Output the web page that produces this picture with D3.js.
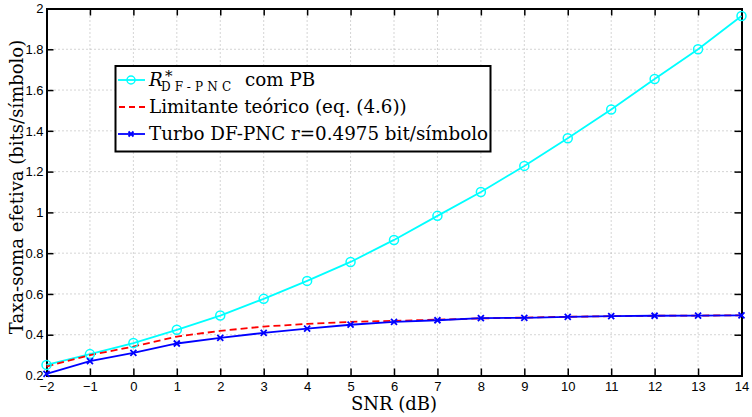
<!DOCTYPE html>
<html><head><meta charset="utf-8">
<script src="https://cdn.jsdelivr.net/npm/d3@7"></script>
<style>body{margin:0;background:#fff}svg{display:block}</style>
</head><body>
<svg id="c" width="752" height="417"></svg>
<script>
const snr = [-2,-1,0,1,2,3,4,5,6,7,8,9,10,11,12,13,14];
const rStar = [0.252,0.305,0.359,0.424,0.494,0.576,0.664,0.757,0.865,0.983,1.10,1.228,1.364,1.505,1.654,1.80,1.963];
const limit = [0.244,0.300,0.342,0.391,0.419,0.440,0.453,0.463,0.468,0.474,0.480,0.484,0.488,0.491,0.493,0.494,0.495];
const turbo = [0.208,0.270,0.311,0.357,0.385,0.409,0.430,0.449,0.463,0.471,0.481,0.483,0.488,0.491,0.493,0.494,0.495];
const xTicks = [-2,-1,0,1,2,3,4,5,6,7,8,9,10,11,12,13,14];
const yTicks = [0.2,0.4,0.6,0.8,1,1.2,1.4,1.6,1.8,2];
const legendLabels = ["com PB","Limitante teórico (eq. (4.6))","Turbo DF-PNC r=0.4975 bit/símbolo"];

const L=46.5,R=741.5,T=8.5,B=375.5;
const svg=d3.select("#c");
const x=d3.scaleLinear().domain([-2,14]).range([L,R]);
const y=d3.scaleLinear().domain([0.2,2]).range([B,T]);

// grid
const g=svg.append("g");
g.selectAll(".gx").data(xTicks.slice(1,-1)).enter().append("line")
 .attr("x1",d=>x(d)).attr("x2",d=>x(d)).attr("y1",T).attr("y2",B)
 .attr("stroke","#aaa").attr("stroke-width",1).attr("stroke-dasharray","1,3");
g.selectAll(".gy").data(yTicks.slice(1,-1)).enter().append("line")
 .attr("y1",d=>y(d)).attr("y2",d=>y(d)).attr("x1",L).attr("x2",R)
 .attr("stroke","#aaa").attr("stroke-width",1).attr("stroke-dasharray","1,3");

// axes
const fmt=d=>d===1?"1":d===2?"2":String(+d.toFixed(1));
const axB=svg.append("g").attr("transform",`translate(0,${B})`).call(d3.axisBottom(x).tickValues(xTicks).tickSize(-7).tickPadding(6).tickFormat(d=>d<0?"\u2212"+(-d):d));
const axT=svg.append("g").attr("transform",`translate(0,${T})`).call(d3.axisTop(x).tickValues(xTicks).tickSize(-7).tickFormat(""));
const axL=svg.append("g").attr("transform",`translate(${L},0)`).call(d3.axisLeft(y).tickValues(yTicks).tickSize(-7).tickPadding(3).tickFormat(fmt));
const axR=svg.append("g").attr("transform",`translate(${R},0)`).call(d3.axisRight(y).tickValues(yTicks).tickSize(-7).tickFormat(""));
[axB,axT,axL,axR].forEach(a=>{
  a.select(".domain").attr("stroke","#000").attr("stroke-width",2);
  a.selectAll(".tick line").attr("stroke","#000").attr("stroke-width",1.5);
  a.selectAll("text").attr("font-family","Liberation Sans, Arial, sans-serif").attr("font-size",13).attr("fill","#000");
});

// lines
const line=d3.line().x((d,i)=>x(snr[i])).y(d=>y(d));
svg.append("path").datum(rStar).attr("d",line).attr("fill","none").attr("stroke","#00ffff").attr("stroke-width",1.8);
svg.append("path").datum(limit).attr("d",line).attr("fill","none").attr("stroke","#ff0000").attr("stroke-width",1.8).attr("stroke-dasharray","7,4");
svg.append("path").datum(turbo).attr("d",line).attr("fill","none").attr("stroke","#0000ff").attr("stroke-width",1.8);
svg.selectAll(".mc").data(rStar).enter().append("circle")
 .attr("cx",(d,i)=>x(snr[i])).attr("cy",d=>y(d)).attr("r",4.5)
 .attr("fill","none").attr("stroke","#00ffff").attr("stroke-width",1.5);
const xm=(sel,cx,cy,s)=>{sel.append("path").attr("d",`M${cx-s},${cy-s}L${cx+s},${cy+s}M${cx-s},${cy+s}L${cx+s},${cy-s}`)
 .attr("stroke","#0000ff").attr("stroke-width",1.8);};
turbo.forEach((d,i)=>xm(svg,x(snr[i]),y(d),3));

// legend
const lg=svg.append("g");
lg.append("rect").attr("x",115.5).attr("y",66).attr("width",375).attr("height",85.5)
 .attr("fill","#fff").attr("stroke","#000").attr("stroke-width",2);
const rows=[80,107,134];
lg.append("line").attr("x1",118).attr("x2",145).attr("y1",rows[0]).attr("y2",rows[0]).attr("stroke","#00ffff").attr("stroke-width",1.8);
lg.append("circle").attr("cx",131).attr("cy",rows[0]).attr("r",4).attr("fill","none").attr("stroke","#00ffff").attr("stroke-width",1.5);
lg.append("line").attr("x1",119).attr("x2",146).attr("y1",rows[1]).attr("y2",rows[1]).attr("stroke","#ff0000").attr("stroke-width",1.8).attr("stroke-dasharray","6,4");
lg.append("line").attr("x1",118).attr("x2",145).attr("y1",rows[2]).attr("y2",rows[2]).attr("stroke","#0000ff").attr("stroke-width",1.8);
xm(lg,131,rows[2],2.5);
const serif="DejaVu Serif, serif";
const FS=18.3;
lg.append("text").attr("x",149).attr("y",rows[0]+6).attr("font-family",serif).attr("font-size",FS).attr("font-style","italic").text("R");
lg.append("text").attr("x",165).attr("y",rows[0]+1).attr("font-family",serif).attr("font-size",15).text("*");
lg.append("text").attr("x",161).attr("y",rows[0]+11).attr("font-family",serif).attr("font-size",12).attr("letter-spacing",4.2).text("DF-PNC");
lg.append("text").attr("x",245).attr("y",rows[0]+6).attr("font-family",serif).attr("font-size",FS).text(legendLabels[0]);
lg.append("text").attr("x",149).attr("y",rows[1]+6).attr("font-family",serif).attr("font-size",FS).text(legendLabels[1]);
lg.append("text").attr("x",149).attr("y",rows[2]+6).attr("font-family",serif).attr("font-size",FS).text(legendLabels[2]);

// axis labels
svg.append("text").attr("x",394).attr("y",410).attr("text-anchor","middle")
 .attr("font-family",serif).attr("font-size",18).text("SNR (dB)");
svg.append("text").attr("transform",`translate(23,187) rotate(-90)`).attr("text-anchor","middle")
 .attr("font-family",serif).attr("font-size",18).text("Taxa-soma efetiva (bits/símbolo)");
</script>
</body></html>
